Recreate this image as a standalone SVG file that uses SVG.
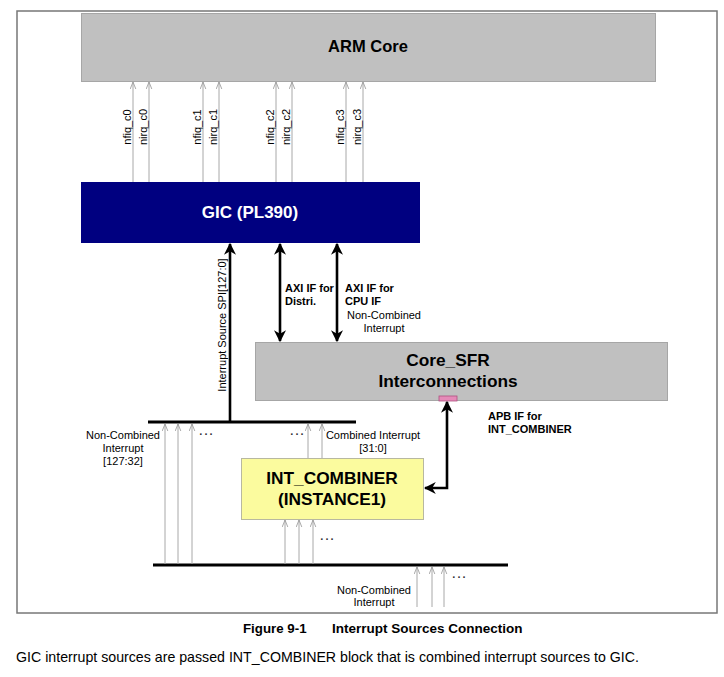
<svg xmlns="http://www.w3.org/2000/svg" width="724" height="677" viewBox="0 0 724 677">
<defs>
<marker id="thin" viewBox="0 0 10 10" refX="10" refY="5" markerWidth="7" markerHeight="7" orient="auto" markerUnits="userSpaceOnUse">
<path d="M0,1 L10,5 L0,9" fill="none" stroke="#999" stroke-width="1.2"/>
</marker>
<marker id="thick" viewBox="0 0 10 10" refX="9" refY="5" markerWidth="12" markerHeight="12" orient="auto-start-reverse" markerUnits="userSpaceOnUse">
<path d="M0,0 L10,5 L0,10 L3,5 z" fill="#000"/>
</marker>
</defs>
<style>
text{font-family:"Liberation Sans",Arial,sans-serif;fill:#000}
.sig{font-size:11px}
.lbl{font-size:11px}
.b{font-weight:bold}
.dots{font-size:11px;letter-spacing:1.5px;font-weight:bold;fill:#333}
.thin{stroke:#a8a8a8;stroke-width:1;fill:none;marker-end:url(#thin)}
.thick{stroke:#000;stroke-width:2.6;fill:none}
.bus{stroke:#000;stroke-width:3}
.gray{fill:#c0c0c0;stroke:#a6a6a6;stroke-width:1}
</style>
<rect width="724" height="677" fill="#fff"/>
<rect x="17" y="11" width="700" height="602" fill="none" stroke="#777" stroke-width="1.5"/>

<g id="arm_core">
<rect class="gray" x="81.5" y="13.5" width="574" height="68"/>
<text x="368" y="52" text-anchor="middle" class="b" font-size="16.5">ARM Core</text>
</g>

<g id="gic">
<rect x="81" y="182" width="339" height="61" fill="#000080"/>
<text x="250" y="218" text-anchor="middle" class="b" font-size="17" style="fill:#fff">GIC (PL390)</text>
</g>

<g id="core_sfr">
<rect class="gray" x="255.5" y="342.5" width="412" height="58"/>
<text x="448" y="366" text-anchor="middle" class="b" font-size="17.3">Core_SFR</text>
<text x="448" y="387" text-anchor="middle" class="b" font-size="17.3">Interconnections</text>
<rect x="439" y="396" width="18" height="5" fill="#e58ab8" stroke="#b05080" stroke-width="0.8"/>
</g>

<g id="int_combiner">
<rect x="241.5" y="458.5" width="182" height="61" fill="#fbfb9e" stroke="#b8b8a0" stroke-width="1"/>
<text x="332" y="484" text-anchor="middle" class="b" font-size="17.3">INT_COMBINER</text>
<text x="332" y="505" text-anchor="middle" class="b" font-size="17.3">(INSTANCE1)</text>
</g>

<g id="connectors">
<line class="thin" x1="133" y1="182" x2="133" y2="82"/>
<line class="thin" x1="149" y1="182" x2="149" y2="82"/>
<line class="thin" x1="203" y1="182" x2="203" y2="82"/>
<line class="thin" x1="219" y1="182" x2="219" y2="82"/>
<line class="thin" x1="276" y1="182" x2="276" y2="82"/>
<line class="thin" x1="292" y1="182" x2="292" y2="82"/>
<line class="thin" x1="346" y1="182" x2="346" y2="82"/>
<line class="thin" x1="363" y1="182" x2="363" y2="82"/>
<line class="thick" x1="230" y1="422" x2="230" y2="244" marker-end="url(#thick)"/>
<line class="thick" x1="280" y1="244" x2="280" y2="341" marker-start="url(#thick)" marker-end="url(#thick)"/>
<line class="thick" x1="337" y1="244" x2="337" y2="341" marker-start="url(#thick)" marker-end="url(#thick)"/>
<polyline class="thick" points="447,402 447,488 425,488" marker-start="url(#thick)" marker-end="url(#thick)"/>
<line class="bus" x1="148" y1="422" x2="356" y2="422"/>
<line class="bus" x1="153" y1="565" x2="508" y2="565"/>
<line class="thin" x1="165" y1="564" x2="165" y2="424"/>
<line class="thin" x1="178" y1="564" x2="178" y2="424"/>
<line class="thin" x1="192" y1="564" x2="192" y2="424"/>
<line class="thin" x1="308" y1="458" x2="308" y2="424"/>
<line class="thin" x1="322" y1="458" x2="322" y2="424"/>
<line class="thin" x1="285" y1="564" x2="285" y2="520"/>
<line class="thin" x1="299" y1="564" x2="299" y2="520"/>
<line class="thin" x1="313" y1="564" x2="313" y2="520"/>
<line class="thin" x1="417" y1="607" x2="417" y2="567"/>
<line class="thin" x1="432" y1="607" x2="432" y2="567"/>
<line class="thin" x1="444" y1="607" x2="444" y2="567"/>
</g>

<g id="labels">
<text class="sig" transform="translate(131,127) rotate(-90)" text-anchor="middle">nfiq_c0</text>
<text class="sig" transform="translate(147,127) rotate(-90)" text-anchor="middle">nirq_c0</text>
<text class="sig" transform="translate(201,127) rotate(-90)" text-anchor="middle">nfiq_c1</text>
<text class="sig" transform="translate(217,127) rotate(-90)" text-anchor="middle">nirq_c1</text>
<text class="sig" transform="translate(274,127) rotate(-90)" text-anchor="middle">nfiq_c2</text>
<text class="sig" transform="translate(290,127) rotate(-90)" text-anchor="middle">nirq_c2</text>
<text class="sig" transform="translate(344,127) rotate(-90)" text-anchor="middle">nfiq_c3</text>
<text class="sig" transform="translate(361,127) rotate(-90)" text-anchor="middle">nirq_c3</text>
<text class="lbl" transform="translate(226,325) rotate(-90)" text-anchor="middle">Interrupt Source SPI[127:0]</text>
<text class="lbl b" x="285" y="292">AXI IF for</text>
<text class="lbl b" x="285" y="305">Distri.</text>
<text class="lbl b" x="345" y="292">AXI IF for</text>
<text class="lbl b" x="345" y="305">CPU IF</text>
<text class="lbl" x="384" y="319" text-anchor="middle">Non-Combined</text>
<text class="lbl" x="384" y="332" text-anchor="middle">Interrupt</text>
<text class="lbl b" x="488" y="420">APB IF for</text>
<text class="lbl b" x="488" y="433">INT_COMBINER</text>
<text class="lbl" x="123" y="439" text-anchor="middle">Non-Combined</text>
<text class="lbl" x="123" y="452" text-anchor="middle">Interrupt</text>
<text class="lbl" x="123" y="465" text-anchor="middle">[127:32]</text>
<text class="lbl" x="373" y="439" text-anchor="middle">Combined Interrupt</text>
<text class="lbl" x="373" y="452" text-anchor="middle">[31:0]</text>
<text class="lbl" x="374" y="594" text-anchor="middle">Non-Combined</text>
<text class="lbl" x="374" y="606" text-anchor="middle">Interrupt</text>
<text class="dots" x="207" y="438" text-anchor="middle">···</text>
<text class="dots" x="298" y="438" text-anchor="middle">···</text>
<text class="dots" x="328" y="543" text-anchor="middle">···</text>
<text class="dots" x="460" y="581" text-anchor="middle">···</text>
<text x="243" y="633" class="b" font-size="13.3">Figure 9-1</text>
<text x="332" y="633" class="b" font-size="13.5">Interrupt Sources Connection</text>
<text x="16" y="662" font-size="14.2">GIC interrupt sources are passed INT_COMBINER block that is combined interrupt sources to GIC.</text>
</g>
</svg>
